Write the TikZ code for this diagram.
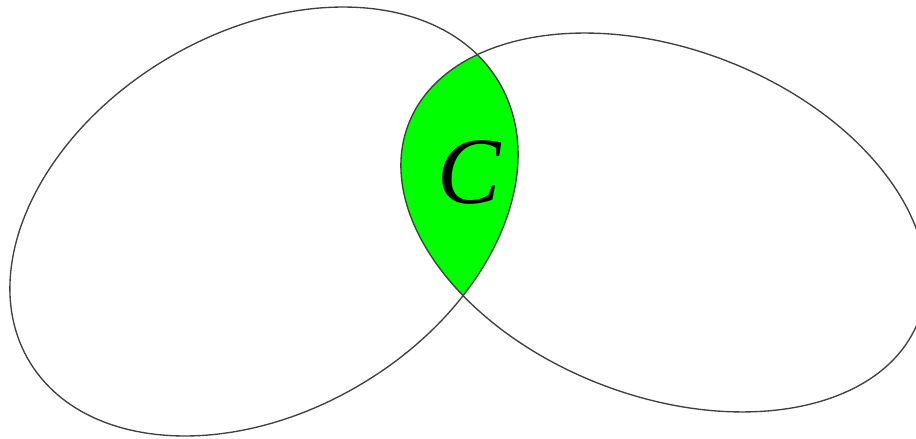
\documentclass[tikz,border=0pt]{standalone}
\usepackage{fontspec}
\setmainfont{Liberation Serif}
\tikzset{
  venn/.style={draw=black!75, line width=1.35pt},
  lens/.style={fill=green},
}
\begin{document}
\begin{tikzpicture}[x=1pt,y=1pt]
\useasboundingbox (0,0) rectangle (916,439);
\coordinate (cl) at (264,217.5);
\coordinate (cr) at (663.5,216.5);
\begin{scope}
  \clip[rotate around={30.7:(cl)}] (cl) ellipse [x radius=273.2, y radius=189.5];
  \fill[lens, rotate around={-21.1:(cr)}] (cr) ellipse [x radius=273.3, y radius=173.5];
\end{scope}
\draw[venn, rotate around={30.7:(cl)}] (cl) ellipse [x radius=273.2, y radius=189.5];
\draw[venn, rotate around={-21.1:(cr)}] (cr) ellipse [x radius=273.3, y radius=173.5];
\node[inner sep=0pt] (c) at (469,267) {\fontsize{95}{95}\selectfont\itshape C};
\end{tikzpicture}
\end{document}
